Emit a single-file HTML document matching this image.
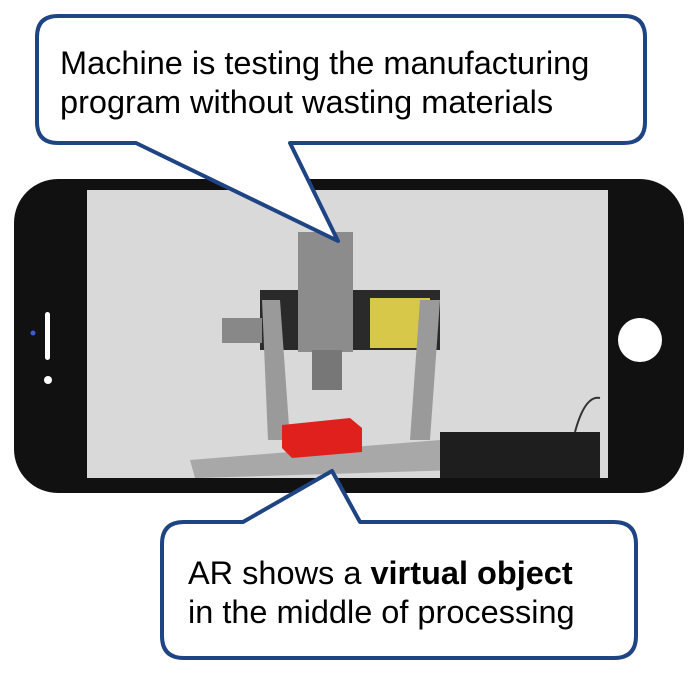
<!DOCTYPE html>
<html><head><meta charset="utf-8"><style>
html,body{margin:0;padding:0;background:#fff;width:691px;height:673px;overflow:hidden}
svg{display:block}
text{font-family:"Liberation Sans",Arial,sans-serif;fill:#000}
</style></head><body>
<svg width="691" height="673" viewBox="0 0 691 673">
  <g>
    <rect x="14" y="179" width="670" height="314" rx="44" fill="#111"/>
    <rect x="87" y="190" width="521" height="288" fill="#d9d9d9"/>
    <rect x="45" y="312" width="5" height="48" rx="2.5" fill="#fff"/>
    <circle cx="33" cy="333" r="2.5" fill="#3b5bd9"/>
    <circle cx="48" cy="380" r="4" fill="#fff"/>
    <circle cx="640" cy="340" r="22" fill="#fff"/>
  </g>
  <g>
    <rect x="260" y="290" width="180" height="60" fill="#2a2a2a"/>
    <rect x="370" y="298" width="60" height="50" fill="#d8c84a"/>
    <polygon points="262,300 280,300 290,440 268,440" fill="#9a9a9a"/>
    <polygon points="420,300 440,300 430,440 410,440" fill="#9a9a9a"/>
    <rect x="298" y="232" width="55" height="120" fill="#8c8c8c"/>
    <rect x="312" y="350" width="30" height="40" fill="#777"/>
    <rect x="222" y="318" width="40" height="25" fill="#888"/>
    <polygon points="190,460 440,440 460,470 195,478" fill="#a8a8a8"/>
    <polygon points="282,425 350,418 362,428 362,452 292,458 282,448" fill="#e0201c"/>
    <rect x="440" y="432" width="160" height="46" fill="#1e1e1e"/>
    <path d="M575,432 Q585,395 600,398" stroke="#333" stroke-width="2" fill="none"/>
  </g>
  <g>
    <path d="M58,16 H624 Q645,16 645,37 V122 Q645,143 624,143 H290 L338,241 L136,143 H58 Q37,143 37,122 V37 Q37,16 58,16 Z" fill="#fff" stroke="#1f4484" stroke-width="4" stroke-linejoin="round"/>
    <text x="60" y="74" font-size="32.5">Machine is testing the manufacturing</text>
    <text x="60" y="113" font-size="32.5">program without wasting materials</text>
  </g>
  <g>
    <path d="M184,522 H243 L332,471 L360,522 H614 Q636,522 636,544 V636 Q636,658 614,658 H184 Q162,658 162,636 V544 Q162,522 184,522 Z" fill="#fff" stroke="#1f4484" stroke-width="4" stroke-linejoin="round"/>
    <text x="188" y="584" font-size="32.5">AR shows a <tspan font-weight="bold">virtual object</tspan></text>
    <text x="188" y="623" font-size="32.5">in the middle of processing</text>
  </g>
</svg>
</body></html>
